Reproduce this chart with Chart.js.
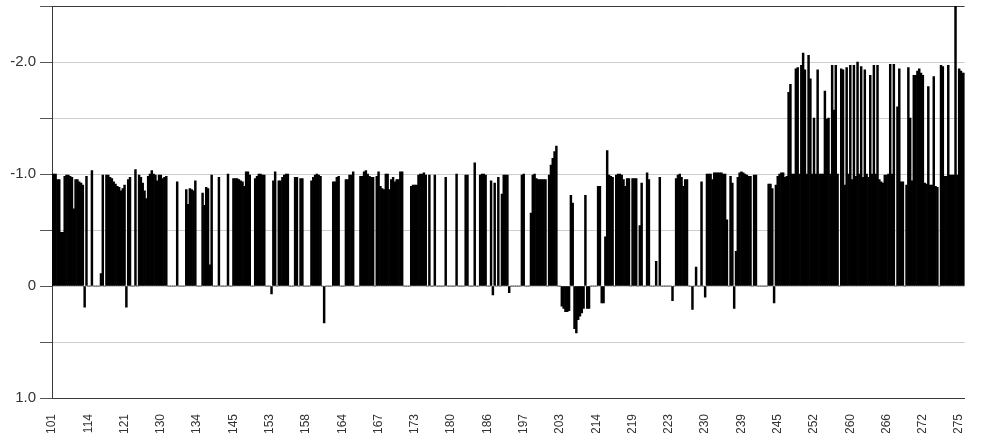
<!DOCTYPE html>
<html>
<head>
<meta charset="utf-8">
<script src="https://cdn.jsdelivr.net/npm/chart.js@4.4.1/dist/chart.umd.min.js"></script>
<style>
  html, body { margin: 0; padding: 0; background: #fff; }
  canvas { display: block; }
</style>
</head>
<body>
<canvas id="chart" width="987" height="433"></canvas>
<script>
// tick labels, one every 20 bars
const tickLabels = ['101', '114', '121', '130', '134', '145', '153', '158', '164', '167', '173', '180', '186',
    '197', '203', '214', '219', '223', '230', '239', '245', '252', '260', '266', '272', '275'];
const barsPerLabel = 20;

// bar values, one row per tick label interval
const values = [
    -1.0, -1.0, -1.0, -0.95, -0.95, -0.48, -0.48, -0.98, -0.99, -0.99, -0.98, -0.97, -0.69, -0.95, -0.95, -0.93, -0.92, -0.9, 0.19, -0.98,
    0, 0, -1.03, 0, 0, 0, 0, -0.11, -0.99, 0, -0.99, -0.99, -0.97, -0.96, -0.93, -0.91, -0.89, -0.88, -0.85, -0.87,
    -0.9, 0.19, -0.95, -0.97, 0, 0, -1.04, 0, -0.99, -0.97, -0.92, -0.85, -0.78, -0.98, -1.0, -1.03, -1.0, -0.99, -0.94, -0.99,
    -0.99, -0.96, -0.97, -0.98, 0, 0, 0, 0, 0, -0.93, 0, 0, 0, 0, -0.86, -0.73, -0.87, -0.86, -0.85, -0.94,
    0, 0, 0, -0.83, -0.72, -0.88, -0.87, -0.19, -0.99, 0, 0, 0, -0.97, 0, 0, 0, 0, -1.0, 0, 0,
    -0.96, -0.96, -0.96, -0.95, -0.94, -0.93, -0.89, -1.02, -1.02, -0.99, 0, 0, -0.96, -0.98, -1.0, -1.0, -0.99, -0.99, 0, 0,
    0, 0.07, -0.94, -1.02, 0, -0.94, -0.94, -0.97, -0.99, -1.0, -1.0, 0, 0, 0, -0.97, -0.97, 0, -0.96, -0.96, 0,
    0, 0, 0, -0.94, -0.97, -0.99, -1.0, -0.99, -0.98, 0, 0.33, 0, 0, 0, 0, -0.93, -0.93, -0.97, -0.98, 0,
    0, 0, -0.95, -0.95, -0.99, -0.99, -1.02, 0, 0, 0, -0.98, -0.98, -1.02, -1.03, -1.0, -0.98, -0.97, -0.97, 0, -0.98,
    -1.02, -0.89, -0.87, -0.86, -1.0, -1.0, -0.86, -0.95, -0.97, -0.93, -0.95, -0.95, -1.02, -1.02, 0, 0, 0, 0, -0.89, -0.9,
    -0.9, -0.9, -0.99, -1.0, -1.0, -1.01, -0.99, 0, -0.99, 0, 0, -0.99, 0, 0, 0, 0, 0, -0.97, 0, 0,
    0, 0, 0, -1.0, 0, 0, 0, 0, -0.99, -0.99, 0, 0, 0, -1.1, 0, 0, -0.99, -1.0, -1.0, -0.99,
    0, 0, -0.94, 0.08, -0.92, 0, -0.97, 0, -0.82, -0.99, -0.99, -0.99, 0.06, 0, 0, 0, 0, 0, 0, -0.99,
    -1.0, 0, 0, 0, -0.65, -0.99, -1.0, -0.96, -0.95, -0.95, -0.95, -0.95, -0.95, 0, -0.99, -1.08, -1.14, -1.2, -1.25, 0,
    0, 0.18, 0.2, 0.23, 0.23, 0.22, -0.81, -0.74, 0.38, 0.42, 0.3, 0.27, 0.24, 0.2, -0.81, 0.2, 0.2, 0, 0, 0,
    0, -0.89, -0.89, 0.15, 0.15, -0.44, -1.21, -0.99, -0.98, -0.97, 0, -0.99, -1.0, -1.0, -0.99, -0.95, -0.89, -0.96, -0.96, 0,
    -0.96, -0.96, -0.96, 0, -0.54, -0.92, 0, 0, -1.01, -0.95, 0, 0, 0, -0.22, 0, -0.97, 0, 0, 0, 0,
    0, 0, 0.13, 0, -0.96, -0.99, -1.0, -0.97, -0.89, -0.95, -0.95, 0, 0, 0.21, 0, -0.17, 0, 0, -0.93, 0,
    0.1, -1.0, -1.0, -1.0, -0.95, -1.01, -1.01, -1.01, -1.01, -1.01, -1.0, -1.0, -0.59, 0, -0.98, -0.92, 0.2, -0.31, -0.97, -1.01,
    -1.02, -1.01, -1.0, -0.99, -0.98, -0.98, 0, -0.99, -0.99, 0, 0, 0, 0, 0, 0, -0.91, -0.91, -0.87, 0.15, -0.9,
    -0.98, -1.0, -1.01, -1.01, -0.97, -0.98, -1.73, -1.8, -1.0, -1.0, -1.94, -1.95, -1.0, -1.97, -2.08, -1.93, -1.0, -2.06, -1.85, -1.0,
    -1.5, -1.0, -1.93, -1.0, -1.0, -1.0, -1.74, -1.49, -1.5, -1.0, -1.97, -1.57, -1.97, -1.0, 0, -1.94, -1.93, -0.9, -1.95, -1.0,
    -1.97, -0.95, -1.97, -0.98, -2.0, -1.0, -1.96, -0.97, -1.93, -1.0, -0.97, -1.88, -1.0, -1.97, -1.0, -1.97, -0.95, -0.93, -0.92, -0.99,
    -0.99, -1.0, -1.98, -1.0, -1.98, 0, -1.6, -1.94, -0.93, -0.93, 0, -0.9, -1.95, -1.5, -0.94, -1.88, -1.88, -1.92, -1.94, -1.9,
    -1.88, -0.92, -0.91, -1.78, -0.9, -0.9, -1.87, -0.89, -0.88, 0, -1.97, -1.96, -0.98, -0.98, -1.97, -0.99, -0.99, -0.99, -2.5, -0.99,
    -1.94, -1.92, -1.9, -1.9
];

// y axis range (reversed: negative values point up)
const yMin = -2.5;
const yMax = 1.0;
const yStep = 0.5;

const categories = values.map((v, i) => (i % barsPerLabel === 0 ? tickLabels[i / barsPerLabel] || '' : ''));

const axisColor = '#3a3a3a';
const gridColor = '#cccccc';
const fontFamily = "'Liberation Sans', Arial, sans-serif";

new Chart(document.getElementById('chart'), {
    type: 'bar',
    data: {
        labels: categories,
        datasets: [{
            data: values,
            backgroundColor: '#000000',
            borderWidth: 0,
            barPercentage: 1.0,
            categoryPercentage: 1.0
        }]
    },
    options: {
        responsive: false,
        animation: false,
        devicePixelRatio: 1,
        layout: { padding: { top: 6, right: 0, bottom: 0, left: 0 } },
        plugins: {
            legend: { display: false },
            tooltip: { enabled: false }
        },
        scales: {
            x: {
                offset: false,
                grid: { display: false },
                border: { display: true, color: axisColor, width: 1 },
                ticks: {
                    autoSkip: false,
                    maxRotation: 90,
                    minRotation: 90,
                    padding: 8,
                    color: '#333333',
                    font: { family: fontFamily, size: 12 }
                },
                afterFit: (scale) => { scale.height = 35; }
            },
            y: {
                reverse: true,
                min: yMin,
                max: yMax,
                grid: {
                    color: (ctx) => (ctx.tick && (ctx.tick.value === yMin || ctx.tick.value === yMax) ? axisColor : gridColor),
                    tickColor: '#555555',
                    tickLength: 12,
                    lineWidth: 1
                },
                border: { display: true, color: axisColor, width: 1 },
                ticks: {
                    stepSize: yStep,
                    padding: 4,
                    color: '#333333',
                    font: { family: fontFamily, size: 15 },
                    callback: (value) => {
                        if (!Number.isInteger(value)) return '';
                        return value === 0 ? '0' : value.toFixed(1);
                    }
                },
                afterFit: (scale) => {
                    scale.width = 52;
                    scale.paddingTop = 0;
                    scale.paddingBottom = 0;
                }
            }
        }
    }
});
</script>
</body>
</html>
